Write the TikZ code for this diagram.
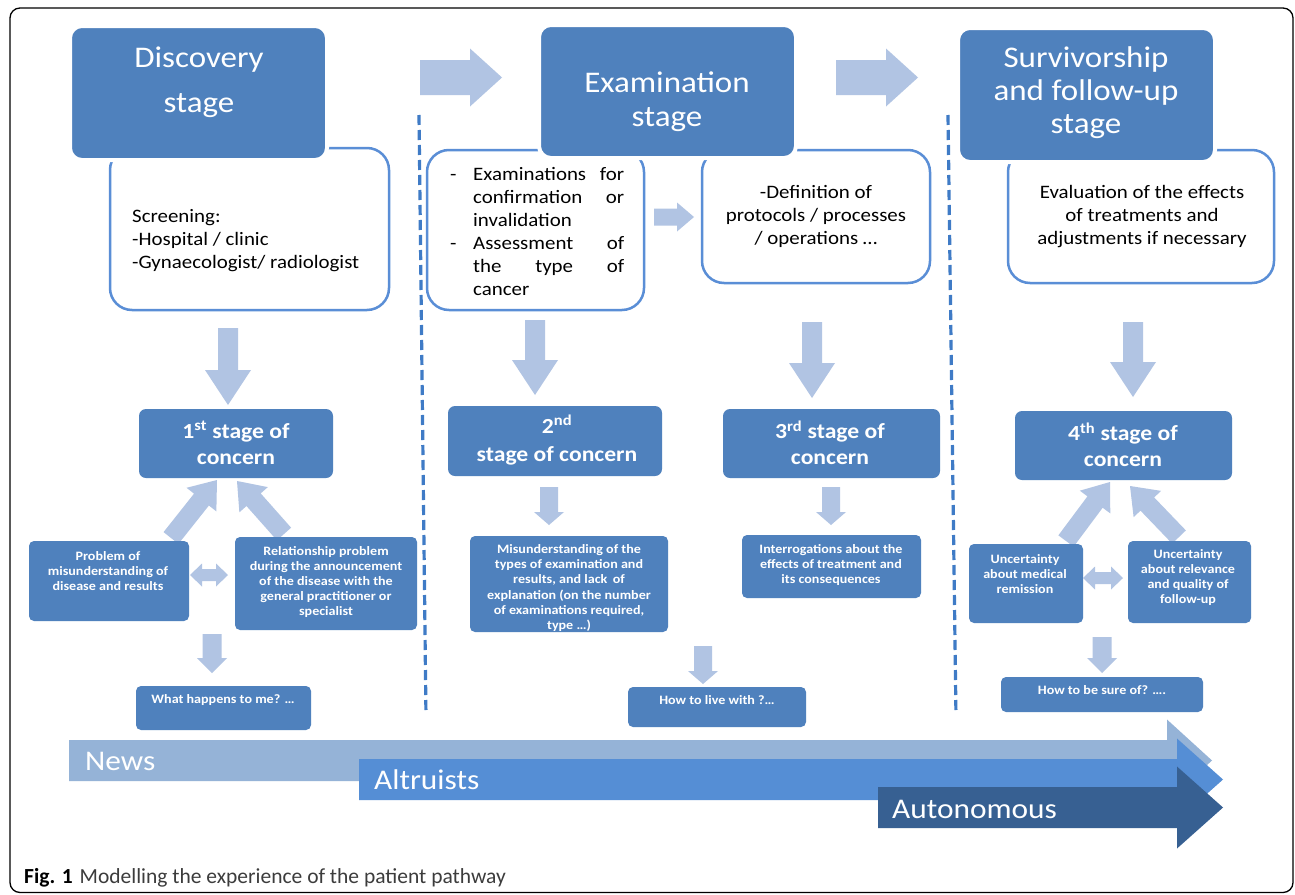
\documentclass[tikz,border=0pt]{standalone}
\usepackage{fontspec}
\setmainfont{Carlito}[FakeStretch=1.1]
\newfontfamily\capfont{Carlito}
\usetikzlibrary{calc}
\definecolor{hdblue}{HTML}{4F81BD}
\definecolor{wline}{HTML}{5A8ED6}
\definecolor{dashc}{HTML}{3F7BC6}
\definecolor{larrowc}{HTML}{B1C4E3}
\definecolor{newsc}{HTML}{95B3D7}
\definecolor{altc}{HTML}{558ED5}
\definecolor{autc}{HTML}{376092}
\definecolor{capgrey}{HTML}{3C3C3C}
\newcommand\fsz[2]{\fontsize{#1pt}{#2pt}\selectfont}
% block arrow: style, start, end, shaft half width, head half width, head length
\newcommand\blockarrow[6]{%
  \coordinate (tmpN) at ($(#3)!#6pt!(#2)$);
  \path[#1] ($(#2)!#4pt!90:(#3)$) -- ($(tmpN)!#4pt!-90:(#2)$) -- ($(tmpN)!#5pt!-90:(#2)$) -- (#3)
    -- ($(tmpN)!#5pt!90:(#2)$) -- ($(tmpN)!#4pt!90:(#2)$) -- ($(#2)!#4pt!-90:(#3)$) -- cycle;}
% double block arrow
\newcommand\dblarrow[6]{%
  \coordinate (tmpA) at ($(#2)!#6pt!(#3)$);
  \coordinate (tmpB) at ($(#3)!#6pt!(#2)$);
  \path[#1] (#2) -- ($(tmpA)!#5pt!90:(#3)$) -- ($(tmpA)!#4pt!90:(#3)$) -- ($(tmpB)!#4pt!-90:(#2)$)
    -- ($(tmpB)!#5pt!-90:(#2)$) -- (#3) -- ($(tmpB)!#5pt!90:(#2)$) -- ($(tmpB)!#4pt!90:(#2)$)
    -- ($(tmpA)!#4pt!-90:(#3)$) -- ($(tmpA)!#5pt!-90:(#3)$) -- cycle;}
\tikzset{
  hdr/.style={fill=hdblue, draw=white, line width=4pt, rounded corners=12pt, inner sep=0pt},
  wbox/.style={fill=white, draw=wline, line width=2.5pt, rounded corners=22pt, inner sep=0pt},
  cbox/.style={fill=hdblue, rounded corners=7pt, inner sep=0pt},
  sbox/.style={fill=hdblue, rounded corners=5pt, inner sep=0pt},
  hdtxt/.style={text=white, font=\fsz{30}{34}, align=center, inner sep=0pt},
  wtxt/.style={text=black, font=\fsz{19}{23}, inner sep=0pt},
  ctxt/.style={text=white, font=\bfseries\fsz{21.5}{26}, align=center, inner sep=0pt},
  stxt/.style={text=white, font=\bfseries\fsz{12.8}{15.2}, align=center, inner sep=0pt},
  btxt/.style={text=white, font=\fsz{28.5}{30}, anchor=west, inner sep=0pt},
  larrow/.style={fill=larrowc},
  sepdash/.style={draw=dashc, line width=3.2pt},
}
\begin{document}
\begin{tikzpicture}[x=1pt,y=-1pt]
\useasboundingbox (0,0) rectangle (1295,894);
\fill[white] (0,0) rectangle (1295,894);
\draw[line width=1.3pt, rounded corners=10pt] (10,8) rectangle (1293,892.5);

% separators (dashes drawn one by one)
\coordinate (d1t) at (419,115); \coordinate (d1b) at (426,718);
\coordinate (d2t) at (948,115); \coordinate (d2b) at (956,718);
\foreach \i in {0,...,39} {
  \draw[sepdash] ($(d1t)!{\i*15/603}!(d1b)$) -- ($(d1t)!{(\i*15+10)/603}!(d1b)$);
  \draw[sepdash] ($(d2t)!{\i*15/603}!(d2b)$) -- ($(d2t)!{(\i*15+10)/603}!(d2b)$);
}

% white boxes
\node[wbox, minimum width=279pt, minimum height=162pt] (wb1) at (249.5,229) {};
\node[wbox, minimum width=217pt, minimum height=160pt] (wb2) at (535.5,230) {};
\node[wbox, minimum width=228pt, minimum height=133pt] (wb3) at (816,216.5) {};
\node[wbox, minimum width=266pt, minimum height=133pt] (wb4) at (1141,216.5) {};

% headers
\node[hdr, minimum width=257pt, minimum height=134pt] (hd1) at (198.5,93) {};
\node[hdr, minimum width=257pt, minimum height=133pt] (hd2) at (667.5,91.5) {};
\node[hdr, minimum width=257pt, minimum height=134pt] (hd3) at (1086.5,95) {};
\node[hdtxt, font=\fsz{30}{45}] (hd1t) at (199,82) {Discovery\\stage};
\node[hdtxt] (hd2t) at (667,102) {Examination\\stage};
\node[hdtxt, font=\fsz{30}{33}] (hd3t) at (1086,92.5) {Survivorship\\and follow-up\\stage};

% white box texts
\node[wtxt, anchor=west, align=left] (wb1t) at (132,241) {Screening:\\-Hospital / clinic\\-Gynaecologist/ radiologist};
\node[wtxt, anchor=west, align=left] (wb2t) at (450,231) {\makebox[23pt][l]{-}\makebox[151pt][s]{Examinations for}\\\makebox[23pt]{}\makebox[151pt][s]{confirmation or}\\\makebox[23pt]{}invalidation\\\makebox[23pt][l]{-}\makebox[151pt][s]{Assessment of}\\\makebox[23pt]{}\makebox[151pt][s]{the type of}\\\makebox[23pt]{}cancer};
\node[wtxt, align=center] (wb3t) at (816,216) {-Definition of\\protocols / processes\\/ operations …};
\node[wtxt, align=center] (wb4t) at (1142,217) {Evaluation of the effects\\of treatments and\\adjustments if necessary};

% top arrows
\coordinate (ta1s) at (420,77.5); \coordinate (ta1e) at (502,77.5);
\coordinate (ta2s) at (836,77.5); \coordinate (ta2e) at (918,77.5);
\coordinate (sa1s) at (654,217); \coordinate (sa1e) at (694,217);
\blockarrow{larrow}{ta1s}{ta1e}{17.5}{29}{32}
\blockarrow{larrow}{ta2s}{ta2e}{17.5}{29}{32}
\blockarrow{larrow}{sa1s}{sa1e}{8.5}{14.5}{17}

% down arrows to concern boxes
\coordinate (da1s) at (228,328); \coordinate (da1e) at (228,405);
\coordinate (da2s) at (535,320); \coordinate (da2e) at (535,395);
\coordinate (da3s) at (812,322); \coordinate (da3e) at (812,398);
\coordinate (da4s) at (1133,322); \coordinate (da4e) at (1133,397);
\blockarrow{larrow}{da1s}{da1e}{10}{23}{35}
\blockarrow{larrow}{da2s}{da2e}{10}{23}{35}
\blockarrow{larrow}{da3s}{da3e}{10}{23}{35}
\blockarrow{larrow}{da4s}{da4e}{10}{23}{35}

% concern boxes
\node[cbox, minimum width=194pt, minimum height=69pt] (c1) at (236,443.5) {};
\node[cbox, minimum width=214pt, minimum height=70pt] (c2) at (555,441) {};
\node[cbox, minimum width=217pt, minimum height=69pt] (c3) at (831.5,443.5) {};
\node[cbox, minimum width=217pt, minimum height=69pt] (c4) at (1123.5,445.5) {};
\node[ctxt] (c1t) at (236,443) {1\textsuperscript{st} stage of\\concern};
\node[ctxt, font=\bfseries\fsz{21.5}{28}] (c2t) at (557,440) {2\textsuperscript{nd}\\stage of concern};
\node[ctxt] (c3t) at (830,443) {3\textsuperscript{rd} stage of\\concern};
\node[ctxt] (c4t) at (1123,445) {4\textsuperscript{th} stage of\\concern};

% small arrows
\coordinate (ea2s) at (549,487); \coordinate (ea2e) at (549,525);
\coordinate (ea3s) at (831,487); \coordinate (ea3e) at (831,525);
\coordinate (ea4s) at (703,646); \coordinate (ea4e) at (703,684);
\coordinate (ea1s) at (212,634); \coordinate (ea1e) at (212,673);
\coordinate (ea5s) at (1102,637); \coordinate (ea5e) at (1102,673);
\blockarrow{larrow}{ea2s}{ea2e}{9}{15}{13}
\blockarrow{larrow}{ea3s}{ea3e}{9}{15}{13}
\blockarrow{larrow}{ea4s}{ea4e}{9}{15}{13}
\blockarrow{larrow}{ea1s}{ea1e}{9.5}{15}{15}
\blockarrow{larrow}{ea5s}{ea5e}{9.5}{15}{15}

% diagonal arrows
\coordinate (g1ls) at (171,538); \coordinate (g1le) at (217,480);
\coordinate (g1rs) at (284,534); \coordinate (g1re) at (237,481);
\coordinate (g4ls) at (1066,541); \coordinate (g4le) at (1110,482);
\coordinate (g4rs) at (1179,537); \coordinate (g4re) at (1130,486);
\blockarrow{larrow}{g1ls}{g1le}{9.5}{19}{25}
\blockarrow{larrow}{g1rs}{g1re}{9.5}{19}{25}
\blockarrow{larrow}{g4ls}{g4le}{9.5}{19}{25}
\blockarrow{larrow}{g4rs}{g4re}{9.5}{19}{25}

% double arrows
\coordinate (h1s) at (190,575); \coordinate (h1e) at (228,575);
\coordinate (h4s) at (1083,578); \coordinate (h4e) at (1123,578);
\dblarrow{larrow}{h1s}{h1e}{6}{11.5}{12}
\dblarrow{larrow}{h4s}{h4e}{6}{11.5}{12}

% small boxes
\node[sbox, minimum width=160pt, minimum height=80pt] (s1) at (109,581) {};
\node[sbox, minimum width=182pt, minimum height=93pt] (s2) at (326,583.5) {};
\node[sbox, minimum width=175pt, minimum height=44pt] (s3) at (223.5,708) {};
\node[sbox, minimum width=198pt, minimum height=96pt] (s4) at (569,584) {};
\node[sbox, minimum width=179pt, minimum height=63pt] (s5) at (831.5,566.5) {};
\node[sbox, minimum width=178pt, minimum height=40pt] (s6) at (717,707) {};
\node[sbox, minimum width=114pt, minimum height=79pt] (s7) at (1026,583.5) {};
\node[sbox, minimum width=123pt, minimum height=82pt] (s8) at (1189.5,582) {};
\node[sbox, minimum width=202pt, minimum height=35pt] (s9) at (1102,694.5) {};
\node[stxt] (s1t) at (108,571) {Problem of\\misunderstanding of\\disease and results};
\node[stxt] (s2t) at (326,582) {Relationship problem\\during the announcement\\of the disease with the\\general practitioner or\\specialist};
\node[stxt] (s3t) at (223,700) {What happens to me? …};
\node[stxt] (s4t) at (569,588) {Misunderstanding of the\\types of examination and\\results, and lack\, of\\explanation (on the number\\of examinations required,\\type …)};
\node[stxt] (s5t) at (831,565) {Interrogations about the\\effects of treatment and\\its consequences};
\node[stxt] (s6t) at (717,700) {How to live with ?…};
\node[stxt] (s7t) at (1025,574) {Uncertainty\\about medical\\remission};
\node[stxt] (s8t) at (1188,577.5) {Uncertainty\\about relevance\\and quality of\\follow-up};
\node[stxt] (s9t) at (1102,690) {How to be sure of? ….};

% bottom arrows
\coordinate (nws) at (69,760.5); \coordinate (nwe) at (1212,760.5);
\coordinate (als) at (359,779.5); \coordinate (ale) at (1223,779.5);
\coordinate (aus) at (878,807.5); \coordinate (aue) at (1223,807.5);
\blockarrow{fill=newsc}{nws}{nwe}{20.5}{41}{45}
\blockarrow{fill=altc}{als}{ale}{20.5}{41}{46}
\blockarrow{fill=autc}{aus}{aue}{20.5}{41}{46}
\node[btxt] (newst) at (85,761) {News};
\node[btxt] (altt) at (374,780) {Altruists};
\node[btxt] (autt) at (892,809) {Autonomous};

% caption
\node[anchor=base west, inner sep=0pt, text=capgrey] (cap) at (24,883) {\capfont\fsz{21.5}{24}\textcolor{black}{\textbf{Fig. 1}}\hspace{0.1em} Modelling the experience of the patient pathway};
\end{tikzpicture}
\end{document}
